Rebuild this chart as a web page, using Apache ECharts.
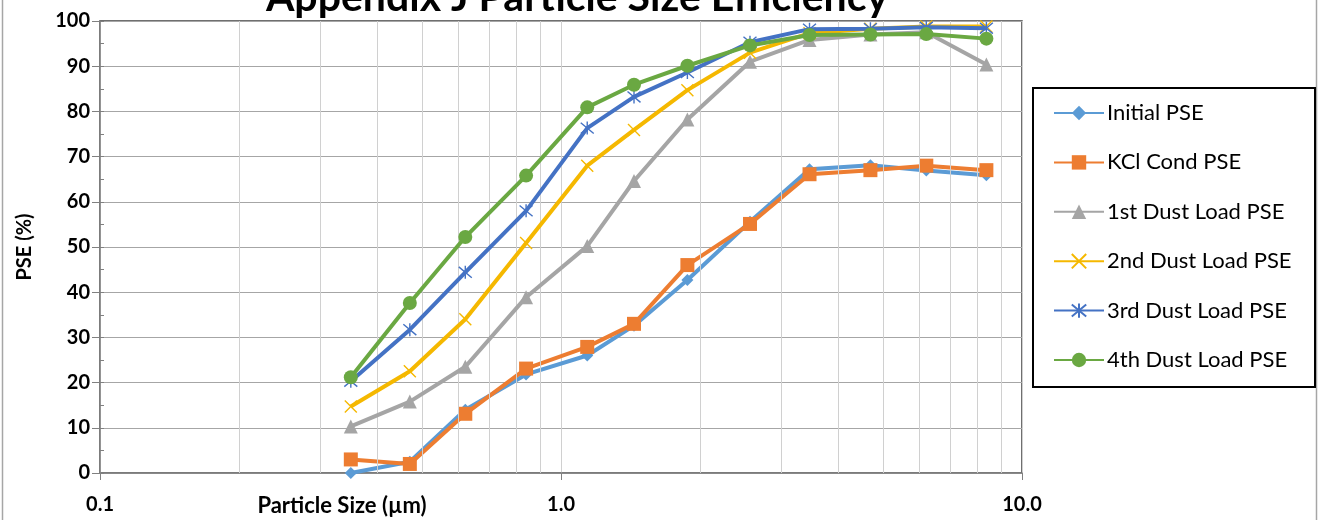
<!DOCTYPE html>
<html><head><meta charset="utf-8">
<script src="https://cdn.jsdelivr.net/npm/echarts/dist/echarts.min.js"></script>
<style>html,body{margin:0;padding:0;background:#fff}#c{width:1320px;height:520px}</style>
</head><body><div id="c"></div>
<script>
// Particle size channel centers (µm)
const sizes = [0.35, 0.47, 0.62, 0.84, 1.14, 1.44, 1.88, 2.57, 3.46, 4.69, 6.2, 8.37];
const initialPSE = [0, 2.5, 14, 21.8, 26, 32.6, 42.7, 55.6, 67.2, 68.1, 66.9, 65.9];
const kclPSE     = [3, 2, 13.1, 23.1, 27.9, 33, 46, 55.1, 66.1, 67, 68, 67];
const dust1PSE   = [10.3, 15.8, 23.5, 38.9, 50.2, 64.6, 78.2, 91, 95.8, 97, 97.5, 90.4];
const dust2PSE   = [14.7, 22.5, 34, 50.9, 68, 75.9, 84.7, 93, 97.3, 98.3, 98.8, 98.8];
const dust3PSE   = [20.3, 31.7, 44.4, 58, 76.3, 83.2, 88.6, 95.3, 98.2, 98.3, 98.6, 98.4];
const dust4PSE   = [21.2, 37.6, 52.2, 65.8, 80.9, 85.9, 90.1, 94.6, 96.9, 97, 97.1, 96.1];
const seriesNames = ['Initial PSE', 'KCl Cond PSE', '1st Dust Load PSE', '2nd Dust Load PSE', '3rd Dust Load PSE', '4th Dust Load PSE'];
const minorGridX = [0.2, 0.3, 0.4, 0.5, 0.6, 0.7, 0.8, 0.9, 2, 3, 4, 5, 6, 7, 8, 9];
const titleText = 'Appendix J Particle Size Efficiency';
const xTitle = 'Particle Size (\u00b5m)';
const yTitle = 'PSE (%)';

const FONT = 'Lato, "Open Sans", sans-serif';
const colors = ['#5B9BD5', '#ED7D31', '#A5A5A5', '#F5B800', '#4472C4', '#6AA842'];
const xSym = 'path://M0,0L10,10M10,0L0,10';
const starSym = 'path://M0,0L10,10M10,0L0,10M5,-1L5,11';
const symbols = ['diamond', 'rect', 'triangle', xSym, starSym, 'circle'];
const symSizes = [12, 14, 14, 12, 13, 14];
const allData = [initialPSE, kclPSE, dust1PSE, dust2PSE, dust3PSE, dust4PSE];

const chart = echarts.init(document.getElementById('c'), null, {renderer: 'canvas'});

const series = [{
  type: 'line', name: '_grid', data: [], silent: true, z: 1,
  markLine: {
    silent: true, symbol: ['none', 'none'], animation: false,
    label: {show: false},
    lineStyle: {color: '#d0d0d0', width: 1, type: 'solid'},
    emphasis: {disabled: true},
    data: minorGridX.map(v => ({xAxis: v}))
  }
}];
seriesNames.forEach((n, i) => {
  const isStroke = i === 3 || i === 4;
  series.push({
    type: 'line', name: n,
    data: sizes.map((s, k) => [s, allData[i][k]]),
    symbol: symbols[i], symbolSize: symSizes[i], showSymbol: true,
    z: 3 + i,
    lineStyle: {color: colors[i], width: 4},
    itemStyle: isStroke ? {color: colors[i], borderColor: colors[i], borderWidth: 1.4} : {color: colors[i], borderWidth: 0},
    emphasis: {disabled: true},
    animation: false
  });
});

chart.setOption({
  animation: false,
  backgroundColor: '#fff',
  grid: {left: 100, right: 298, top: 21, bottom: 47, show: true, borderColor: '#404040', borderWidth: 1.5, backgroundColor: 'transparent', containLabel: false},
  legend: {
    show: true, orient: 'vertical', left: 1053, top: 102, padding: 0,
    itemWidth: 50, itemHeight: 18, itemGap: 27.4,
    data: seriesNames,
    textStyle: {fontFamily: FONT, fontSize: 22, color: '#000', padding: [0, 0, 0, -2]},
    selectedMode: false
  },
  xAxis: {
    type: 'log', logBase: 10, min: 0.1, max: 10,
    axisLine: {show: true, lineStyle: {color: '#808080', width: 1.5}},
    axisTick: {show: true, length: 7, lineStyle: {color: '#808080', width: 1}},
    axisLabel: {show: true, margin: 22, fontFamily: FONT, fontWeight: 'bold', fontSize: 20, color: '#000',
      formatter: v => Number(v).toFixed(1)},
    splitLine: {show: true, lineStyle: {color: '#d0d0d0', width: 1}},
    minorTick: {show: false}, minorSplitLine: {show: false}
  },
  yAxis: [{
    type: 'value', min: 0, max: 100, interval: 10, position: 'left',
    axisLine: {show: true, lineStyle: {color: '#808080', width: 1.5}},
    axisTick: {show: true, length: 8, inside: false, lineStyle: {color: '#808080', width: 1}},
    axisLabel: {show: true, margin: 10, fontFamily: FONT, fontWeight: 'bold', fontSize: 20, color: '#000'},
    splitLine: {show: true, lineStyle: {color: '#a6a6a6', width: 1.2}}
  }, {
    type: 'value', min: 0, max: 100, interval: 5, position: 'left', offset: 0,
    axisLine: {show: false},
    axisTick: {show: true, inside: true, length: 4, lineStyle: {color: '#808080', width: 1}},
    axisLabel: {show: false},
    splitLine: {show: false}
  }],
  series: series,
  graphic: [
    {type: 'rect', silent: true, z: -1, shape: {x: 2.5, y: -10, width: 1314, height: 545}, style: {fill: 'none', stroke: '#a6a6a6', lineWidth: 1.5}},
    {type: 'rect', silent: true, z: 10, shape: {x: 1033, y: 88, width: 282, height: 299}, style: {fill: 'none', stroke: '#000', lineWidth: 2}},
    {type: 'text', silent: true, x: 577, y: 18, style: {text: titleText, font: 'bold 41px ' + FONT, fill: '#000', textAlign: 'center', textVerticalAlign: 'bottom'}},
    {type: 'text', silent: true, x: 342, y: 506, style: {text: xTitle, font: 'bold 22px ' + FONT, fill: '#000', textAlign: 'center', textVerticalAlign: 'middle'}},
    {type: 'text', silent: true, x: 25, y: 247, rotation: Math.PI / 2, style: {text: yTitle, font: 'bold 20px ' + FONT, fill: '#000', textAlign: 'center', textVerticalAlign: 'middle'}}
  ]
});
</script>
</body></html>
